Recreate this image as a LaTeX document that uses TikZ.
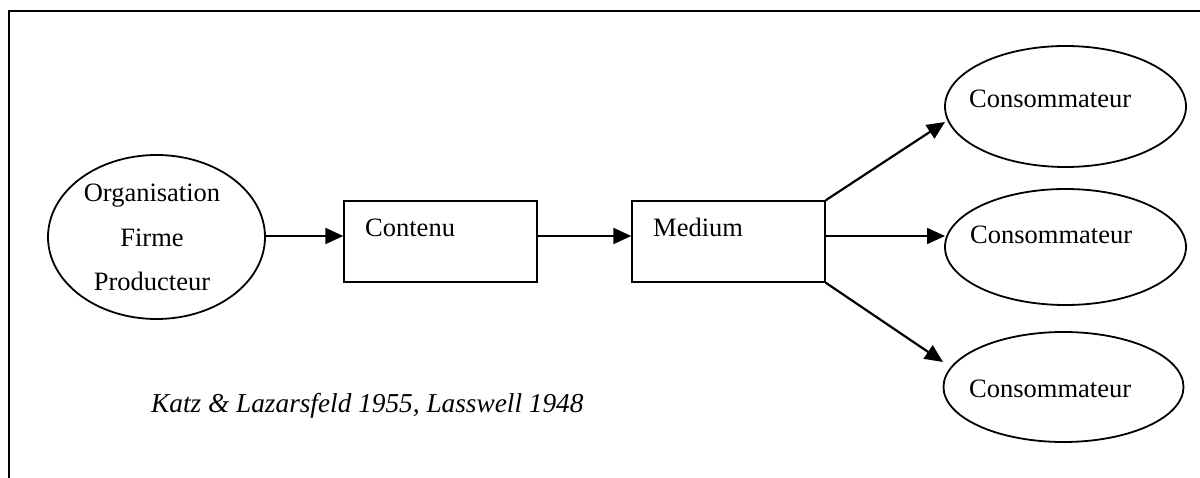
\documentclass[tikz,border=0pt]{standalone}
\usepackage{fontspec}
\setmainfont{Liberation Serif}
\usetikzlibrary{shapes.geometric,arrows.meta}
\begin{document}
\begin{tikzpicture}[x=1pt,y=-1pt,
  every node/.style={font=\fontsize{26.5}{45}\selectfont,inner sep=0pt},
  oval/.style={draw,ellipse,line width=1.8pt,inner sep=0pt},
  panel/.style={draw,rectangle,line width=1.4pt,inner sep=0pt,minimum width=193pt,minimum height=81pt},
  flow/.style={line width=2.2pt,-{Triangle[length=18pt,width=16pt]}},
  frameline/.style={line width=2pt}]
\useasboundingbox (0,0) rectangle (1200,478);
% frame edges
\draw[frameline] (9,478) -- (9,11) -- (1200,11);

% source
\node[oval,minimum width=217pt,minimum height=164pt] (org) at (156.5,237) {};
\node[anchor=base] (orgtxt1) at (152,202) {Organisation};
\node[anchor=base] (orgtxt2) at (152,247) {Firme};
\node[anchor=base] (orgtxt3) at (152,291) {Producteur};

% message and channel
\node[panel] (contenu) at (440.5,241.5) {};
\node[anchor=base west] (contenutxt) at (365,237) {Contenu};
\node[panel] (medium) at (728.5,241.5) {};
\node[anchor=base west] (mediumtxt) at (653,237) {Medium};

% receivers
\node[oval,minimum width=241pt,minimum height=121pt] (c1) at (1065.5,106.5) {};
\node[anchor=base west] (c1txt) at (969,108) {Consommateur};
\node[oval,minimum width=241pt,minimum height=116pt] (c2) at (1065.5,247) {};
\node[anchor=base west] (c2txt) at (970,244) {Consommateur};
\node[oval,minimum width=240pt,minimum height=110pt] (c3) at (1063.5,387) {};
\node[anchor=base west] (c3txt) at (969,397) {Consommateur};

% citation
\node[anchor=base west,font=\fontsize{27.3}{30}\selectfont\itshape] (cite) at (151,412) {Katz \& Lazarsfeld 1955, Lasswell 1948};

% connector ends on the flow line
\coordinate (orgout) at (org.east |- 0,236);
\coordinate (conin) at (contenu.west |- 0,236);
\coordinate (conout) at (contenu.east |- 0,236);
\coordinate (medin) at (medium.west |- 0,236);
\coordinate (medout) at (medium.east |- 0,236);
\coordinate (c2in) at (945,236);
\coordinate (c1in) at (945,122);
\coordinate (c3in) at (943,362);

% connectors
\draw[flow] (orgout) -- (conin);
\draw[flow] (conout) -- (medin);
\draw[flow] (medout) -- (c2in);
\draw[flow] (medium.north east) -- (c1in);
\draw[flow] (medium.south east) -- (c3in);
\end{tikzpicture}
\end{document}
